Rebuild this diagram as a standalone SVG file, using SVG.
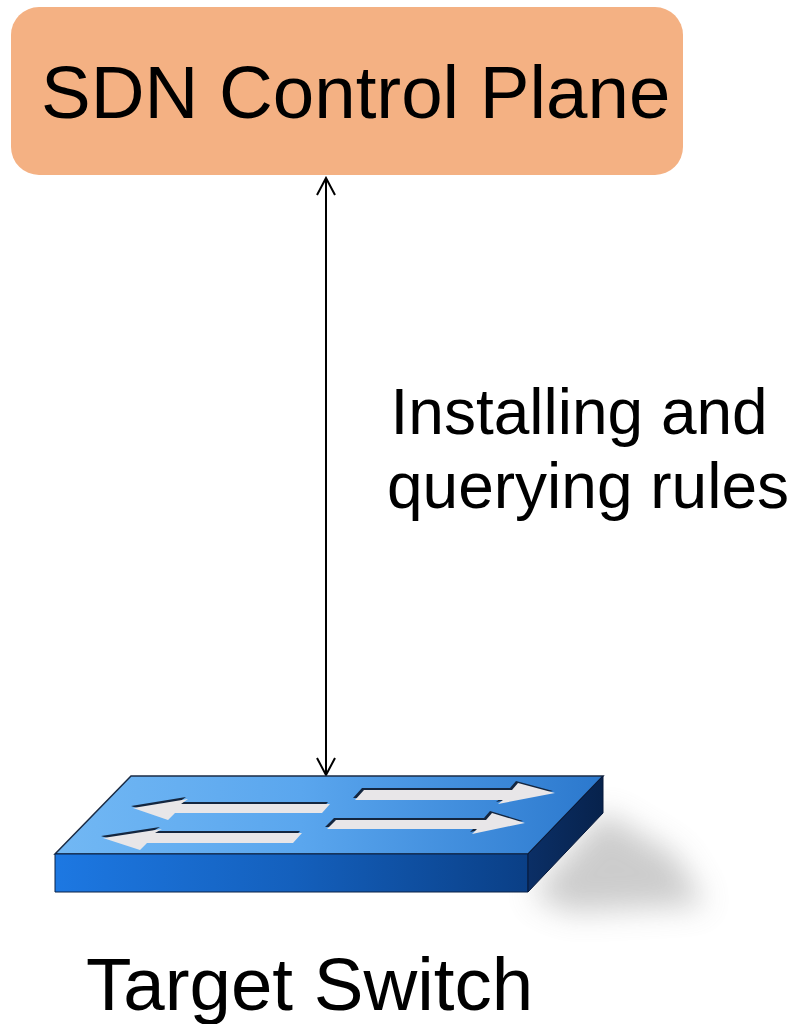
<svg xmlns="http://www.w3.org/2000/svg" width="794" height="1024" viewBox="0 0 794 1024">
  <style>
    .label { font-family: "Liberation Sans", Arial, sans-serif; fill: #000; }
    .conn { stroke: #000; stroke-width: 2; fill: none; }
    .arrow-cut { fill: #14263f; }
    .arrow-face { fill: #e8e6e8; }
  </style>
  <defs>
    <marker id="openHead" viewBox="0 0 20 20" refX="18" refY="10" markerWidth="20" markerHeight="20" markerUnits="userSpaceOnUse" orient="auto-start-reverse">
      <path d="M1,1 L18,10 L1,19" fill="none" stroke="#000" stroke-width="2"/>
    </marker>
    <linearGradient id="topFace" x1="0" y1="0" x2="1" y2="0">
      <stop offset="0" stop-color="#72b8f4"/>
      <stop offset="0.45" stop-color="#5aa6ee"/>
      <stop offset="1" stop-color="#2b78cd"/>
    </linearGradient>
    <linearGradient id="frontFace" x1="0" y1="0" x2="1" y2="0">
      <stop offset="0" stop-color="#1d78e2"/>
      <stop offset="0.5" stop-color="#1460bd"/>
      <stop offset="1" stop-color="#0a3f86"/>
    </linearGradient>
    <linearGradient id="sideFace" x1="0" y1="0" x2="1" y2="0">
      <stop offset="0" stop-color="#0b2f66"/>
      <stop offset="1" stop-color="#07224c"/>
    </linearGradient>
    <filter id="softShadow" x="-40%" y="-40%" width="180%" height="180%">
      <feGaussianBlur stdDeviation="15"/>
    </filter>
  </defs>

  <!-- controller box -->
  <g id="control-plane">
    <rect x="11" y="7" width="672" height="168" rx="28" ry="28" fill="#f4b183"/>
    <text class="label" x="41" y="118" font-size="74.5">SDN Control Plane</text>
  </g>

  <!-- controller to switch link -->
  <g id="connectors">
    <line class="conn" x1="326" y1="178" x2="326" y2="775" marker-start="url(#openHead)" marker-end="url(#openHead)"/>
  </g>

  <g id="link-label">
    <text class="label" font-size="64" text-anchor="middle">
      <tspan x="588" y="434">Installing and</tspan>
      <tspan x="588" y="508">querying rules</tspan>
    </text>
  </g>

  <!-- switch icon -->
  <g id="target-switch">
    <polygon points="532,895 603,812 675,855 705,905 570,912" fill="#8f8f8f" opacity="0.45" filter="url(#softShadow)"/>
    <polygon points="131,776 603,776 528,854 55,854" fill="url(#topFace)" stroke="#1b2b44" stroke-width="1.5"/>
    <polygon points="55,854 528,854 528,892 55,892" fill="url(#frontFace)" stroke="#0b2246" stroke-width="1"/>
    <polygon points="603,776 603,813 528,892 528,854" fill="url(#sideFace)" stroke="#06183a" stroke-width="1"/>

    <!-- left-pointing arrows -->
    <g transform="translate(-2,-2)" class="arrow-cut">
      <polygon points="133,808 188,799 181,804 330,804 322,813 175,813 168,820"/>
      <polygon points="103,838 162,829 155,833 302,833 293,843 147,843 140,850"/>
    </g>
    <polygon class="arrow-face" points="133,808 188,799 181,804 330,804 322,813 175,813 168,820"/>
    <polygon class="arrow-face" points="103,838 162,829 155,833 302,833 293,843 147,843 140,850"/>

    <!-- right-pointing arrows -->
    <g transform="translate(-2,-2)" class="arrow-cut">
      <polygon points="364,790 512,790 518,783 555,793 498,804 503,800 355,800"/>
      <polygon points="336,820 486,820 492,813 525,823 472,834 477,829 327,829"/>
    </g>
    <polygon class="arrow-face" points="364,790 512,790 518,783 555,793 498,804 503,800 355,800"/>
    <polygon class="arrow-face" points="336,820 486,820 492,813 525,823 472,834 477,829 327,829"/>

    <text class="label" x="86" y="1010" font-size="74.5">Target Switch</text>
  </g>
</svg>
